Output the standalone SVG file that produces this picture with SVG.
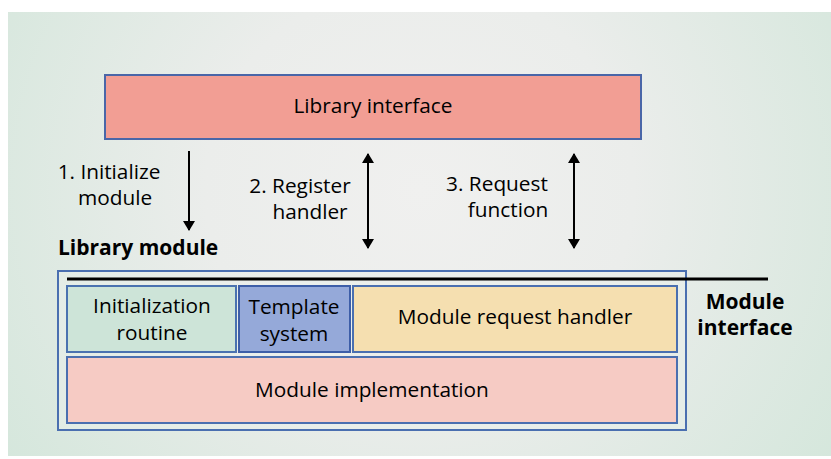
<svg xmlns="http://www.w3.org/2000/svg" width="831" height="459" viewBox="0 0 831 459">
<defs>
<radialGradient id="bg" cx="0.5" cy="0.4" r="0.65" gradientUnits="objectBoundingBox" gradientTransform="translate(0.5 0.4) scale(1 1.8) translate(-0.5 -0.4)">
<stop offset="0" stop-color="#f0f0ef"/>
<stop offset="0.4" stop-color="#ebedeb"/>
<stop offset="1" stop-color="#d2e6da"/>
</radialGradient>
<marker id="ah" viewBox="0 0 10 14" refX="9" refY="7" markerWidth="10" markerHeight="14" markerUnits="userSpaceOnUse" orient="auto-start-reverse">
<path d="M0,1 L10,7 L0,13 Z" fill="#000"/>
</marker>
<style>
text{font-family:"Open Sans","Noto Sans","DejaVu Sans",sans-serif;fill:#000;font-size:20.8px}
.b{font-weight:bold;font-size:21px}
.m{text-anchor:middle}
.box{stroke-width:2}
.arr{stroke:#000;stroke-width:2;fill:none}
</style>
</defs>
<rect x="0" y="0" width="831" height="459" fill="#fff"/>
<rect x="8" y="12" width="823" height="444" fill="url(#bg)"/>
<g id="library-interface">
<rect class="box" x="105" y="75" width="536" height="64" fill="#f29e94" stroke="#4a66a8"/>
<text class="m" x="373" y="113">Library interface</text>
</g>
<g id="library-module">
<text class="b" x="58" y="255">Library module</text>
<rect x="58" y="271" width="628" height="159" fill="#e9efec" fill-opacity="0.5" stroke="#4a6fb0" stroke-width="2"/>
</g>
<g id="init-routine">
<rect class="box" x="67" y="286" width="169" height="66" fill="#cde4d8" stroke="#4a72b0"/>
<text class="m" x="152" y="313">Initialization</text>
<text class="m" x="152" y="340">routine</text>
</g>
<g id="template-system">
<rect class="box" x="239" y="286" width="111" height="66" fill="#95a9d9" stroke="#3d5ea8"/>
<text class="m" x="294" y="314">Template</text>
<text class="m" x="294" y="341">system</text>
</g>
<g id="request-handler">
<rect class="box" x="353" y="286" width="324" height="66" fill="#f5dfb0" stroke="#4a6fb0"/>
<text class="m" x="515" y="324">Module request handler</text>
</g>
<g id="module-impl">
<rect class="box" x="67" y="357" width="610" height="66" fill="#f6cbc4" stroke="#4a6fb0"/>
<text class="m" x="372" y="397">Module implementation</text>
</g>
<g id="module-interface">
<text class="b m" x="745" y="309">Module</text>
<text class="b m" x="745" y="335">interface</text>
</g>
<g id="connectors">
<line x1="67" y1="279" x2="768" y2="279" stroke="#000" stroke-width="3"/>
<line class="arr" x1="189" y1="151" x2="189" y2="230" marker-end="url(#ah)"/>
<line class="arr" x1="368" y1="154" x2="368" y2="248" marker-start="url(#ah)" marker-end="url(#ah)"/>
<line class="arr" x1="574" y1="154" x2="574" y2="248" marker-start="url(#ah)" marker-end="url(#ah)"/>
</g>
<g id="labels">
<text class="m" x="109" y="179">1. Initialize</text>
<text class="m" x="115" y="205">module</text>
<text class="m" x="300" y="193">2. Register</text>
<text class="m" x="310" y="219">handler</text>
<text class="m" x="497" y="191">3. Request</text>
<text class="m" x="508" y="217">function</text>
</g>
</svg>
